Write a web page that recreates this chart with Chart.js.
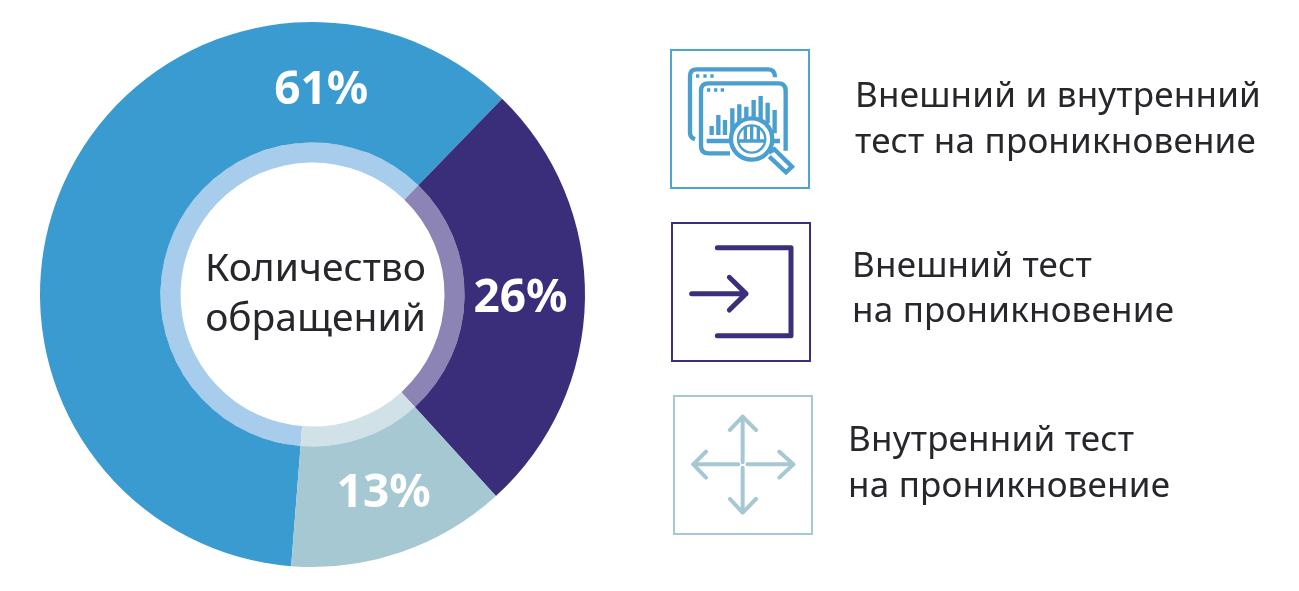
<!DOCTYPE html>
<html lang="ru">
<head>
<meta charset="utf-8">
<title>Количество обращений</title>
<script src="https://cdn.jsdelivr.net/npm/chart.js@4/dist/chart.umd.min.js"></script>
<style>
  html, body { margin: 0; padding: 0; background: #fff; }
  #wrap { position: relative; width: 1299px; height: 591px; overflow: hidden; }
  #donut { position: absolute; left: 0; top: 0; }
  #side { position: absolute; left: 0; top: 0; }
  #side text { font-family: "Noto Sans", sans-serif; font-size: 35px; fill: #26262b; letter-spacing: 0.2px; }
</style>
</head>
<body>
<div id="wrap">
  <canvas id="donut" width="1299" height="591"></canvas>
  <svg id="side" width="1299" height="591" viewBox="0 0 1299 591">
    <!-- first icon, coords from the 3x crop -->
    <rect x="671" y="50" width="138" height="138" fill="none" stroke="#4ea3d3" stroke-width="2"/>
    <g transform="translate(660,40) scale(0.3333)" fill="none" stroke="#4a9fd0" stroke-width="13">
      <path d="M105 298 Q90 292 90 278 V108 Q90 88 110 88 H325 Q345 88 345 112"/>
      <path d="M210 340 H145 Q123 340 123 318 V152 Q123 130 145 130 H355 Q377 130 377 152 V332"/>
      <path d="M108 108 h10 M130 108 h10 M151 108 h10 M141 150 h10 M162 150 h10 M182 150 h10" stroke-width="11"/>
      <path d="M155 285 V258 M175 285 V225 M195 285 V240 M217 285 V205 M238 270 V193 M259 250 V200 M281 240 V180 M302 240 V168 M323 250 V188 M344 280 V210"/>
      <path d="M140 303 H215 M340 303 H360"/>
      <circle cx="275" cy="297" r="62" fill="#fff"/>
      <circle cx="275" cy="297" r="41" stroke-width="7"/>
      <path d="M236 303 H314 M256 298 V258 M275 298 V256 M295 298 V258" stroke-width="10"/>
      <path d="M326 338 L343 328 L396 380 L378 397 L328 350" fill="#fff"/>
    </g>

    <!-- second icon -->
    <rect x="672" y="223" width="138" height="138" fill="none" stroke="#3b2f7c" stroke-width="2"/>
    <g transform="translate(660,215) scale(0.3333)" fill="none" stroke="#3b2f7c" stroke-width="15" stroke-linecap="round" stroke-linejoin="round">
      <path d="M172 98 H393 V362 H172"/>
      <path d="M95 236 H258 M208 187 L258 236 L208 285"/>
    </g>

    <!-- third icon -->
    <rect x="674" y="396" width="138" height="138" fill="none" stroke="#a5c8d2" stroke-width="2"/>
    <g transform="translate(660,385) scale(0.3333)" fill="none" stroke="#a5c8d2" stroke-width="12" stroke-linecap="round" stroke-linejoin="round">
      <path d="M248 95 V232 M248 248 V380 M100 238 H235 M262 238 H400"/>
      <path d="M210 135 L248 95 L288 135 M210 342 L248 383 L288 342 M138 200 L100 238 L138 278 M358 200 L400 238 L358 278"/>
    </g>
  </svg>
</div>
<script>
const categories = ['Внешний и внутренний тест на проникновение', 'Внешний тест на проникновение', 'Внутренний тест на проникновение'];
const values = [61, 26, 13];
const outerColors = ['#3a9bd0', '#3a2d7a', '#a5c8d2'];
const innerColors = ['#a8cdec', '#8d84b6', '#d0e2e8'];
const centerLines = ['Количество', 'обращений'];

// side text, split the way the picture breaks the lines
const sideLines = [
  ['Внешний и внутренний', 'тест на проникновение'],
  ['Внешний тест', 'на проникновение'],
  ['Внутренний тест', 'на проникновение']
];
const sideX = [855, 852, 848];
const sideY = [[107, 153], [277, 322], [451, 497]];

// labels do not sit on slice middles in the picture, so angle is kept by hand (deg from top)
const labelAngles = [2.4, 90, 160];
const labelRadius = 208;

const svg = document.getElementById('side');
sideLines.forEach((lines, i) => {
  lines.forEach((line, j) => {
    const t = document.createElementNS('http://www.w3.org/2000/svg', 'text');
    t.setAttribute('x', sideX[i]);
    t.setAttribute('y', sideY[i][j]);
    t.textContent = line;
    svg.appendChild(t);
  });
});

const donutLabels = {
  id: 'donutLabels',
  afterDraw(chart) {
    const { ctx } = chart;
    const arc = chart.getDatasetMeta(0).data[0];
    ctx.save();
    ctx.textAlign = 'center';
    ctx.textBaseline = 'middle';

    // percent labels
    ctx.fillStyle = '#fff';
    ctx.font = '700 46px "Noto Sans"';
    values.forEach((v, i) => {
      const a = labelAngles[i] * Math.PI / 180;
      ctx.fillText(v + '%', arc.x + Math.sin(a) * labelRadius, arc.y - Math.cos(a) * labelRadius + 4);
    });

    // centre caption
    ctx.fillStyle = '#26262b';
    ctx.font = '39px "Noto Sans"';
    ctx.textBaseline = 'alphabetic';
    ctx.fillText(centerLines[0], arc.x + 3, arc.y - 14);
    ctx.fillText(centerLines[1], arc.x + 3, arc.y + 36);
    ctx.restore();
  }
};

const config = {
  type: 'doughnut',
  data: {
    labels: categories,
    datasets: [
      { data: values, backgroundColor: outerColors, borderWidth: 0, weight: 120 },
      { data: values, backgroundColor: innerColors, borderWidth: 0, weight: 20 }
    ]
  },
  options: {
    responsive: false,
    animation: false,
    rotation: 184.5,
    cutout: 132,
    layout: { padding: { left: 40, right: 714, top: 22, bottom: 24 } },
    plugins: { legend: { display: false }, tooltip: { enabled: false } }
  },
  plugins: [donutLabels]
};

const donut = new Chart(document.getElementById('donut'), config);
</script>
</body>
</html>
